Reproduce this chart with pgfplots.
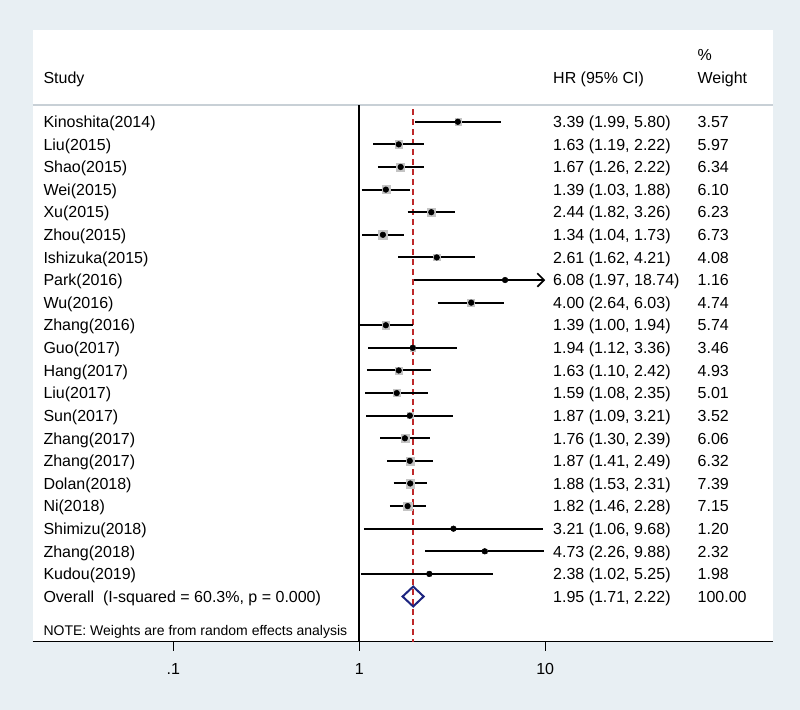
\documentclass[border=0pt]{standalone}
\usepackage{fontspec}
\setmainfont{Liberation Sans}
\usepackage{pgfplots}
\usepackage{pgfplotstable}
\pgfplotsset{compat=1.18}
\usetikzlibrary{arrows.meta}
\definecolor{bgc}{RGB}{232,239,243}
\definecolor{sepc}{RGB}{200,208,214}
\definecolor{refred}{RGB}{190,40,42}
\definecolor{navyd}{RGB}{28,36,128}
\definecolor{boxgray}{RGB}{196,196,196}

\pgfplotstableread{
y   hr   lo   hi    w
-1  3.39 1.99 5.80  3.57
-2  1.63 1.19 2.22  5.97
-3  1.67 1.26 2.22  6.34
-4  1.39 1.03 1.88  6.10
-5  2.44 1.82 3.26  6.23
-6  1.34 1.04 1.73  6.73
-7  2.61 1.62 4.21  4.08
-8  6.08 1.97 18.74 1.16
-9  4.00 2.64 6.03  4.74
-10 1.39 1.00 1.94  5.74
-11 1.94 1.12 3.36  3.46
-12 1.63 1.10 2.42  4.93
-13 1.59 1.08 2.35  5.01
-14 1.87 1.09 3.21  3.52
-15 1.76 1.30 2.39  6.06
-16 1.87 1.41 2.49  6.32
-17 1.88 1.53 2.31  7.39
-18 1.82 1.46 2.28  7.15
-19 3.21 1.06 9.68  1.20
-20 4.73 2.26 9.88  2.32
-21 2.38 1.02 5.25  1.98
}\studies

\begin{document}
\begin{tikzpicture}[x=1pt,y=1pt,font=\fontsize{12}{14}\selectfont,
  every node/.append style={inner xsep=0pt, text height=10pt, text depth=1.4pt}]
\fill[bgc] (0,0) rectangle (600,532.5);
\useasboundingbox (0,0) rectangle (600,532.5);
\begin{axis}[
  at={(24.5pt,51.2pt)}, anchor=south west,
  scale only axis, width=555.2pt, height=458.8pt,
  xmode=log, xmin=0.01754, xmax=167.6, ymin=-24, ymax=3.06,
  axis x line*=bottom, axis y line=none,
  axis background/.style={fill=white},
  axis line style={line width=0.9pt, black},
  xtick={0.1,1,10}, xticklabels={.1,1,10},
  xminorticks=false,
  tick align=outside, major tick length=6.75pt,
  tick style={line width=0.9pt, black},
  xticklabel style={font=\fontsize{12}{14}\selectfont, yshift=-4pt},
  clip=false,
]
% header separator
\addplot[sepc, line width=0.9pt] coordinates {(0.01754,-0.26) (167.6,-0.26)};
% null line
\addplot[black, line width=1.2pt] coordinates {(1,-0.26) (1,-24)};
% weight boxes
\addplot[scatter, only marks, mark=square*, point meta=\thisrow{w},
  scatter/use mapped color={draw=boxgray, fill=boxgray},
  visualization depends on={1.2*sqrt(\thisrow{w}) \as \msz},
  scatter/@pre marker code/.append style={/tikz/mark size=\msz}]
  table[x=hr, y=y] \studies;
% overall reference line
\addplot[draw=refred, line width=1.05pt, dash pattern=on 4.5pt off 3pt] coordinates {(1.95,-0.45) (1.95,-24)};
% confidence intervals
\pgfplotsset{ci/.style={black, line width=1.5pt}}
\addplot[ci] coordinates {(1.99,-1) (5.80,-1)};
\addplot[ci] coordinates {(1.19,-2) (2.22,-2)};
\addplot[ci] coordinates {(1.26,-3) (2.22,-3)};
\addplot[ci] coordinates {(1.03,-4) (1.88,-4)};
\addplot[ci] coordinates {(1.82,-5) (3.26,-5)};
\addplot[ci] coordinates {(1.04,-6) (1.73,-6)};
\addplot[ci] coordinates {(1.62,-7) (4.21,-7)};
\addplot[ci, -{Straight Barb[length=5pt,width=10pt,line width=1.3pt]}] coordinates {(1.97,-8) (10,-8)};
\addplot[ci] coordinates {(2.64,-9) (6.03,-9)};
\addplot[ci] coordinates {(1.00,-10) (1.94,-10)};
\addplot[ci] coordinates {(1.12,-11) (3.36,-11)};
\addplot[ci] coordinates {(1.10,-12) (2.42,-12)};
\addplot[ci] coordinates {(1.08,-13) (2.35,-13)};
\addplot[ci] coordinates {(1.09,-14) (3.21,-14)};
\addplot[ci] coordinates {(1.30,-15) (2.39,-15)};
\addplot[ci] coordinates {(1.41,-16) (2.49,-16)};
\addplot[ci] coordinates {(1.53,-17) (2.31,-17)};
\addplot[ci] coordinates {(1.46,-18) (2.28,-18)};
\addplot[ci] coordinates {(1.06,-19) (9.68,-19)};
\addplot[ci] coordinates {(2.26,-20) (9.88,-20)};
\addplot[ci] coordinates {(1.02,-21) (5.25,-21)};
% point estimates
\addplot[only marks, mark=*, mark size=2.1pt, black] table[x=hr, y=y] \studies;
% overall diamond
\addplot[navyd, line width=1.5pt, line join=miter] coordinates {(1.71,-22) (1.95,-21.56) (2.22,-22) (1.95,-22.44) (1.71,-22) (1.95,-21.56)};

% headers
\node[anchor=west] at (axis cs:0.02,0.96) {Study};
\node[anchor=west] at (axis cs:11.0,0.96) {HR (95\% CI)};
\node[anchor=west] at (axis cs:65.8,1.95) {\%};
\node[anchor=west] at (axis cs:65.8,0.96) {Weight};
% study names
\node[anchor=west] at (axis cs:0.02,-1) {Kinoshita(2014)};
\node[anchor=west] at (axis cs:0.02,-2) {Liu(2015)};
\node[anchor=west] at (axis cs:0.02,-3) {Shao(2015)};
\node[anchor=west] at (axis cs:0.02,-4) {Wei(2015)};
\node[anchor=west] at (axis cs:0.02,-5) {Xu(2015)};
\node[anchor=west] at (axis cs:0.02,-6) {Zhou(2015)};
\node[anchor=west] at (axis cs:0.02,-7) {Ishizuka(2015)};
\node[anchor=west] at (axis cs:0.02,-8) {Park(2016)};
\node[anchor=west] at (axis cs:0.02,-9) {Wu(2016)};
\node[anchor=west] at (axis cs:0.02,-10) {Zhang(2016)};
\node[anchor=west] at (axis cs:0.02,-11) {Guo(2017)};
\node[anchor=west] at (axis cs:0.02,-12) {Hang(2017)};
\node[anchor=west] at (axis cs:0.02,-13) {Liu(2017)};
\node[anchor=west] at (axis cs:0.02,-14) {Sun(2017)};
\node[anchor=west] at (axis cs:0.02,-15) {Zhang(2017)};
\node[anchor=west] at (axis cs:0.02,-16) {Zhang(2017)};
\node[anchor=west] at (axis cs:0.02,-17) {Dolan(2018)};
\node[anchor=west] at (axis cs:0.02,-18) {Ni(2018)};
\node[anchor=west] at (axis cs:0.02,-19) {Shimizu(2018)};
\node[anchor=west] at (axis cs:0.02,-20) {Zhang(2018)};
\node[anchor=west] at (axis cs:0.02,-21) {Kudou(2019)};
\node[anchor=west] at (axis cs:0.02,-22) {Overall\ \ (I-squared = 60.3\%, p = 0.000)};
\node[anchor=west, font=\fontsize{10.5}{12}\selectfont, text height=8.5pt, text depth=1.2pt] at (axis cs:0.02,-23.5) {NOTE: Weights are from random effects analysis};
% HR column
\node[anchor=west] at (axis cs:11.0,-1) {3.39 (1.99, 5.80)};
\node[anchor=west] at (axis cs:11.0,-2) {1.63 (1.19, 2.22)};
\node[anchor=west] at (axis cs:11.0,-3) {1.67 (1.26, 2.22)};
\node[anchor=west] at (axis cs:11.0,-4) {1.39 (1.03, 1.88)};
\node[anchor=west] at (axis cs:11.0,-5) {2.44 (1.82, 3.26)};
\node[anchor=west] at (axis cs:11.0,-6) {1.34 (1.04, 1.73)};
\node[anchor=west] at (axis cs:11.0,-7) {2.61 (1.62, 4.21)};
\node[anchor=west] at (axis cs:11.0,-8) {6.08 (1.97, 18.74)};
\node[anchor=west] at (axis cs:11.0,-9) {4.00 (2.64, 6.03)};
\node[anchor=west] at (axis cs:11.0,-10) {1.39 (1.00, 1.94)};
\node[anchor=west] at (axis cs:11.0,-11) {1.94 (1.12, 3.36)};
\node[anchor=west] at (axis cs:11.0,-12) {1.63 (1.10, 2.42)};
\node[anchor=west] at (axis cs:11.0,-13) {1.59 (1.08, 2.35)};
\node[anchor=west] at (axis cs:11.0,-14) {1.87 (1.09, 3.21)};
\node[anchor=west] at (axis cs:11.0,-15) {1.76 (1.30, 2.39)};
\node[anchor=west] at (axis cs:11.0,-16) {1.87 (1.41, 2.49)};
\node[anchor=west] at (axis cs:11.0,-17) {1.88 (1.53, 2.31)};
\node[anchor=west] at (axis cs:11.0,-18) {1.82 (1.46, 2.28)};
\node[anchor=west] at (axis cs:11.0,-19) {3.21 (1.06, 9.68)};
\node[anchor=west] at (axis cs:11.0,-20) {4.73 (2.26, 9.88)};
\node[anchor=west] at (axis cs:11.0,-21) {2.38 (1.02, 5.25)};
\node[anchor=west] at (axis cs:11.0,-22) {1.95 (1.71, 2.22)};
% weight column
\node[anchor=west] at (axis cs:65.8,-1) {3.57};
\node[anchor=west] at (axis cs:65.8,-2) {5.97};
\node[anchor=west] at (axis cs:65.8,-3) {6.34};
\node[anchor=west] at (axis cs:65.8,-4) {6.10};
\node[anchor=west] at (axis cs:65.8,-5) {6.23};
\node[anchor=west] at (axis cs:65.8,-6) {6.73};
\node[anchor=west] at (axis cs:65.8,-7) {4.08};
\node[anchor=west] at (axis cs:65.8,-8) {1.16};
\node[anchor=west] at (axis cs:65.8,-9) {4.74};
\node[anchor=west] at (axis cs:65.8,-10) {5.74};
\node[anchor=west] at (axis cs:65.8,-11) {3.46};
\node[anchor=west] at (axis cs:65.8,-12) {4.93};
\node[anchor=west] at (axis cs:65.8,-13) {5.01};
\node[anchor=west] at (axis cs:65.8,-14) {3.52};
\node[anchor=west] at (axis cs:65.8,-15) {6.06};
\node[anchor=west] at (axis cs:65.8,-16) {6.32};
\node[anchor=west] at (axis cs:65.8,-17) {7.39};
\node[anchor=west] at (axis cs:65.8,-18) {7.15};
\node[anchor=west] at (axis cs:65.8,-19) {1.20};
\node[anchor=west] at (axis cs:65.8,-20) {2.32};
\node[anchor=west] at (axis cs:65.8,-21) {1.98};
\node[anchor=west] at (axis cs:65.8,-22) {100.00};
\end{axis}
\end{tikzpicture}
\end{document}
